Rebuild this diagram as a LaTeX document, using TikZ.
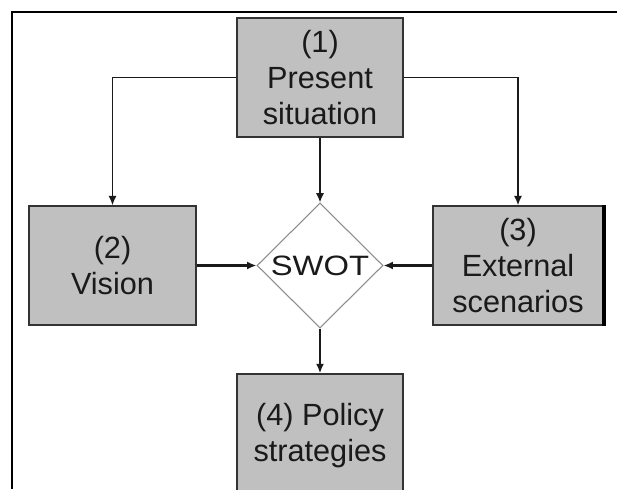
\documentclass[tikz,border=0pt]{standalone}
\usepackage{fontspec}
\setmainfont{Liberation Sans}
\usetikzlibrary{arrows.meta,positioning,shapes.geometric}
\definecolor{boxfill}{HTML}{C0C0C0}
\definecolor{boxedge}{HTML}{333333}
\definecolor{diaedge}{HTML}{8C8C8C}
\definecolor{ink}{HTML}{1A1A1A}

\begin{document}
\begin{tikzpicture}[x=0.75pt,y=-0.75pt,
  stage/.style={draw=boxedge,fill=boxfill,line width=1.3pt,minimum width=125pt,
    minimum height=89pt,inner sep=0pt,align=center,text=ink,
    font=\fontsize{23}{27}\selectfont},
  link/.style={-{Latex[length=7pt,width=6pt]},line width=1.1pt,draw=ink},
  feed/.style={link,line width=2pt}]
  \useasboundingbox (0,0) rectangle (617,489);
  % page frame, cut off at right and bottom
  \draw[line width=1.1pt] (12,489) -- (12,12) -- (617,12);
  \begin{scope}
  \clip (0,0) rectangle (617,489);
  % stages
  \node[stage] (now) at (320,77.5) {(1)\\Present\\situation};
  \node[stage] (vis) at (112.5,265.5) {(2)\\Vision};
  \node[stage,minimum width=127.5pt] (ext) at (518,265.5) {(3)\\External\\scenarios};
  \node[stage,minimum height=93pt] (pol) at (320,436) {(4) Policy\\strategies};
  \draw[line width=3pt] (ext.north east) -- (ext.south east);
  % swot diamond
  \node[diamond,draw=diaedge,fill=white,line width=0.8pt,minimum width=94.5pt,
    minimum height=93.75pt,inner sep=0pt,
    label={[text=ink,font=\fontsize{21}{24}\selectfont]center:\scalebox{1.17}[1]{SWOT}}]
    (swot) at (320,265.5) {};
  % connectors
  \draw[link] (now.west) -| (vis.north);
  \draw[link] (now.east) -| (ext.north);
  \draw[link] (now.south) -- (swot.north);
  \draw[feed] (vis.east) -- (swot.west);
  \draw[feed] (ext.west) -- (swot.east);
  \draw[link] (swot.south) -- (pol.north);
  \end{scope}
\end{tikzpicture}
\end{document}
